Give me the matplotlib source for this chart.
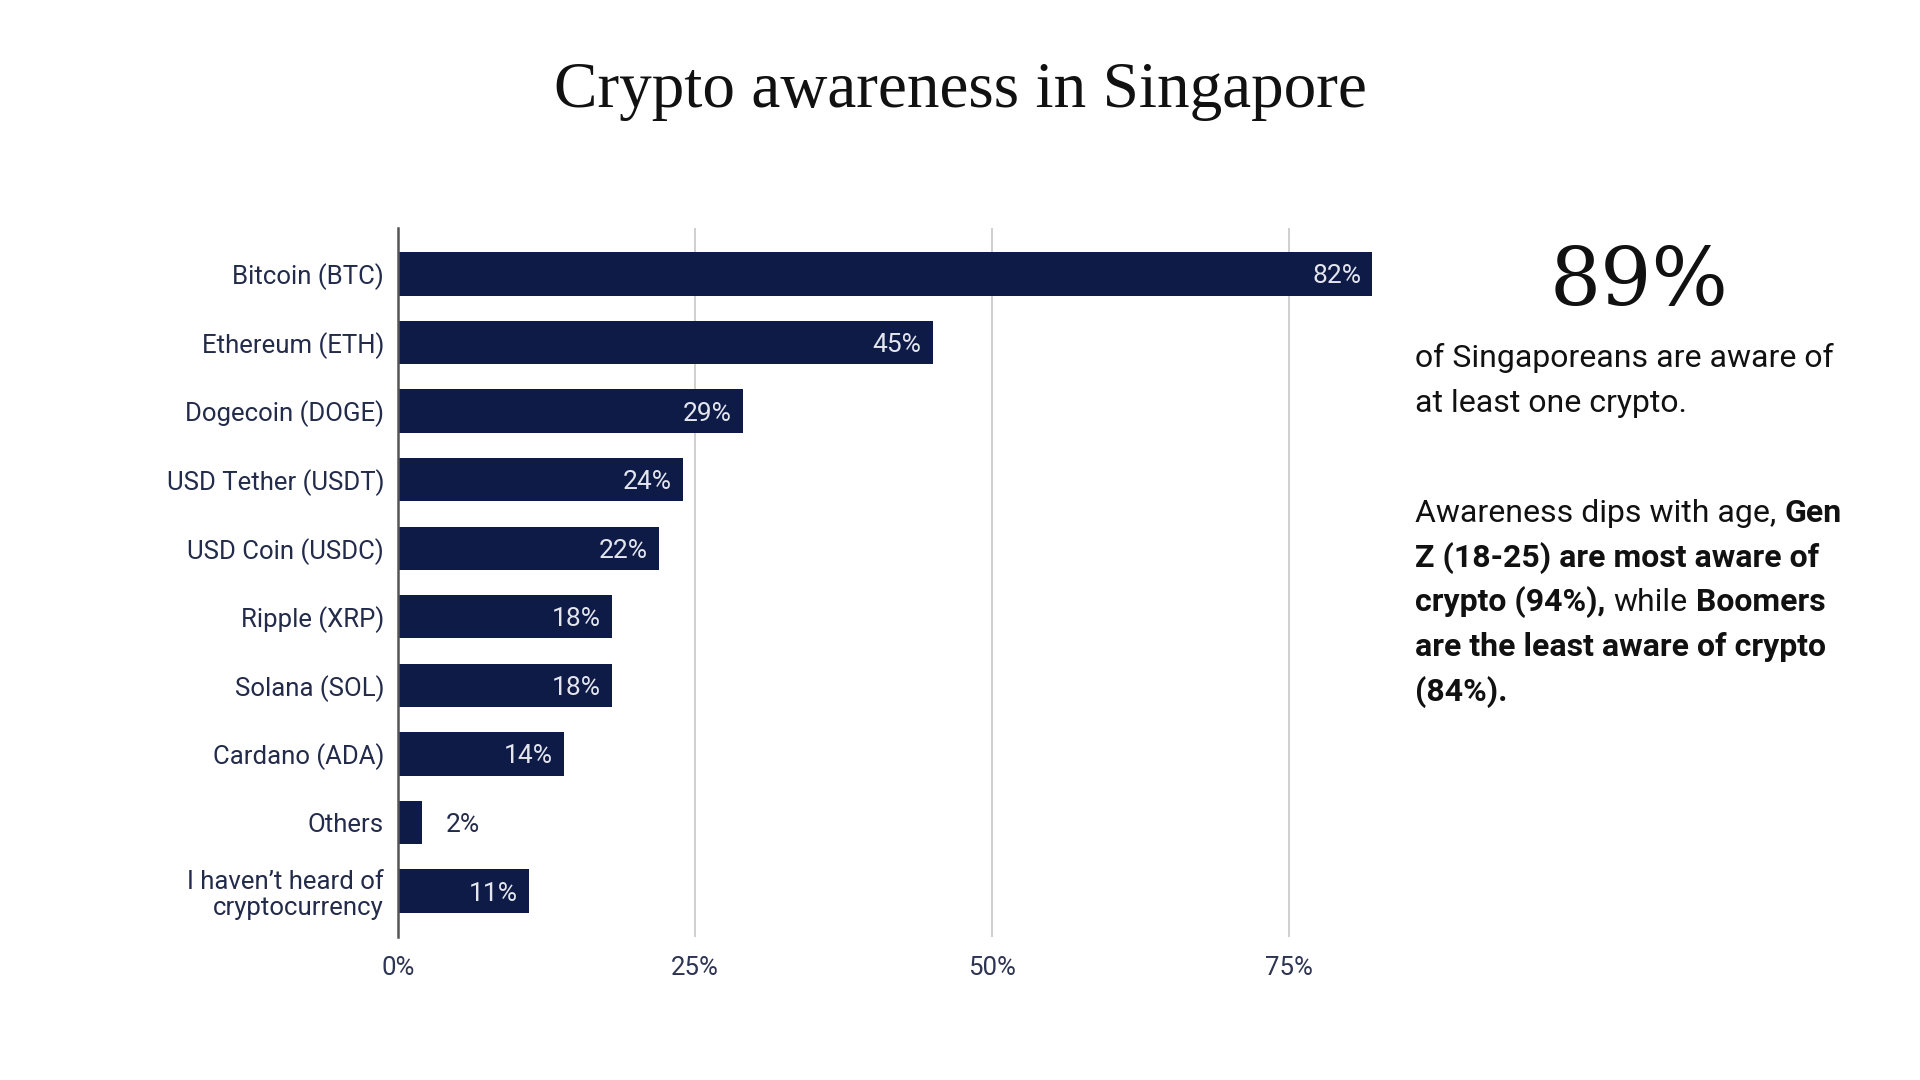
import matplotlib
matplotlib.use("Agg")
import matplotlib.pyplot as plt

# ---------------------------- Data ---------------------------- #
coins = ["Bitcoin (BTC)", "Ethereum (ETH)", "Dogecoin (DOGE)", "USD Tether (USDT)",
         "USD Coin (USDC)", "Ripple (XRP)", "Solana (SOL)", "Cardano (ADA)",
         "Others", "I haven\u2019t heard of\ncryptocurrency"]
awareness = [82, 45, 29, 24, 22, 18, 18, 14, 2, 11]
x_ticks = [0, 25, 50, 75]

headline = "89%"
sub_lines = ["of Singaporeans are aware of", "at least one crypto."]
# each line is a list of (text, bold) pieces
note_lines = [
    [("Awareness dips with age,", False), ("Gen", True)],
    [("Z (18-25) are most aware of", True)],
    [("crypto (94%),", True), ("while", False), ("Boomers", True)],
    [("are the least aware of crypto", True)],
    [("(84%).", True)],
]

BAR = "#0f1b47"
TXT = "#232b4b"
W, H = 1920, 1080

plt.rcParams['font.family'] = ['Roboto', 'DejaVu Sans']

fig = plt.figure(figsize=(19.2, 10.8), dpi=100)
fig.patch.set_facecolor("white")

# Axes box placed in pixel terms
ax = fig.add_axes([398 / W, 143 / H, 986 / W, 709 / H])

positions = list(range(len(coins)))
ax.barh(positions, awareness, height=0.63, color=BAR, zorder=3)
ax.set_ylim(len(coins) - 1 + 0.67, -0.67)
ax.set_xlim(0, 83)

ax.set_yticks(positions)
ax.set_yticklabels(coins, fontsize=18.5, color=TXT, linespacing=1.15)
ax.set_xticks(x_ticks)
ax.set_xticklabels([f"{v}%" for v in x_ticks], fontsize=18.5, color="#2e3553")
ax.tick_params(axis='both', length=0)
ax.tick_params(axis='y', pad=10)
ax.tick_params(axis='x', pad=14)

ax.grid(axis='x', color="#cfcfcf", linewidth=1.4, zorder=0)
for side in ["top", "right", "bottom"]:
    ax.spines[side].set_visible(False)
ax.spines["left"].set_color("#555555")
ax.spines["left"].set_linewidth(1.8)
ax.spines["left"].set_zorder(4)

# Value labels
for pos, val in zip(positions, awareness):
    if val >= 5:
        ax.annotate(f"{val}%", xy=(val, pos), xytext=(-8, 0), textcoords='offset points',
                    ha='right', va='center_baseline', fontsize=19, color="#e4e6ee", zorder=5)
    else:
        ax.annotate(f"{val}%", xy=(val, pos), xytext=(17, 0), textcoords='offset points',
                    ha='left', va='center_baseline', fontsize=19, color=TXT, zorder=5)

# Title
fig.text(0.5, 1 - 107 / H, "Crypto awareness in Singapore", ha='center', va='baseline',
         fontsize=47, family=['Liberation Serif', 'DejaVu Serif'], color="#111111")

# Right-hand panel
fig.text(1639 / W, 1 - 305 / H, headline, ha='center', va='baseline',
         fontsize=58, family=['DejaVu Serif'], color="#111111")

left_x = 1415
for i, line in enumerate(sub_lines):
    fig.text(left_x / W, 1 - (367 + 45 * i) / H, line, ha='left', va='baseline',
             fontsize=23, color="#111111")

renderer = fig.canvas.get_renderer()
space_px = 8
for i, line in enumerate(note_lines):
    x = left_x
    y = 1 - (522 + 44.7 * i) / H
    for text, bold in line:
        t = fig.text(x / W, y, text, ha='left', va='baseline', fontsize=23,
                     fontweight='bold' if bold else 'normal', color="#111111")
        bb = t.get_window_extent(renderer)
        x = bb.x1 + space_px

fig.savefig("out.png", dpi=100, facecolor="white")
